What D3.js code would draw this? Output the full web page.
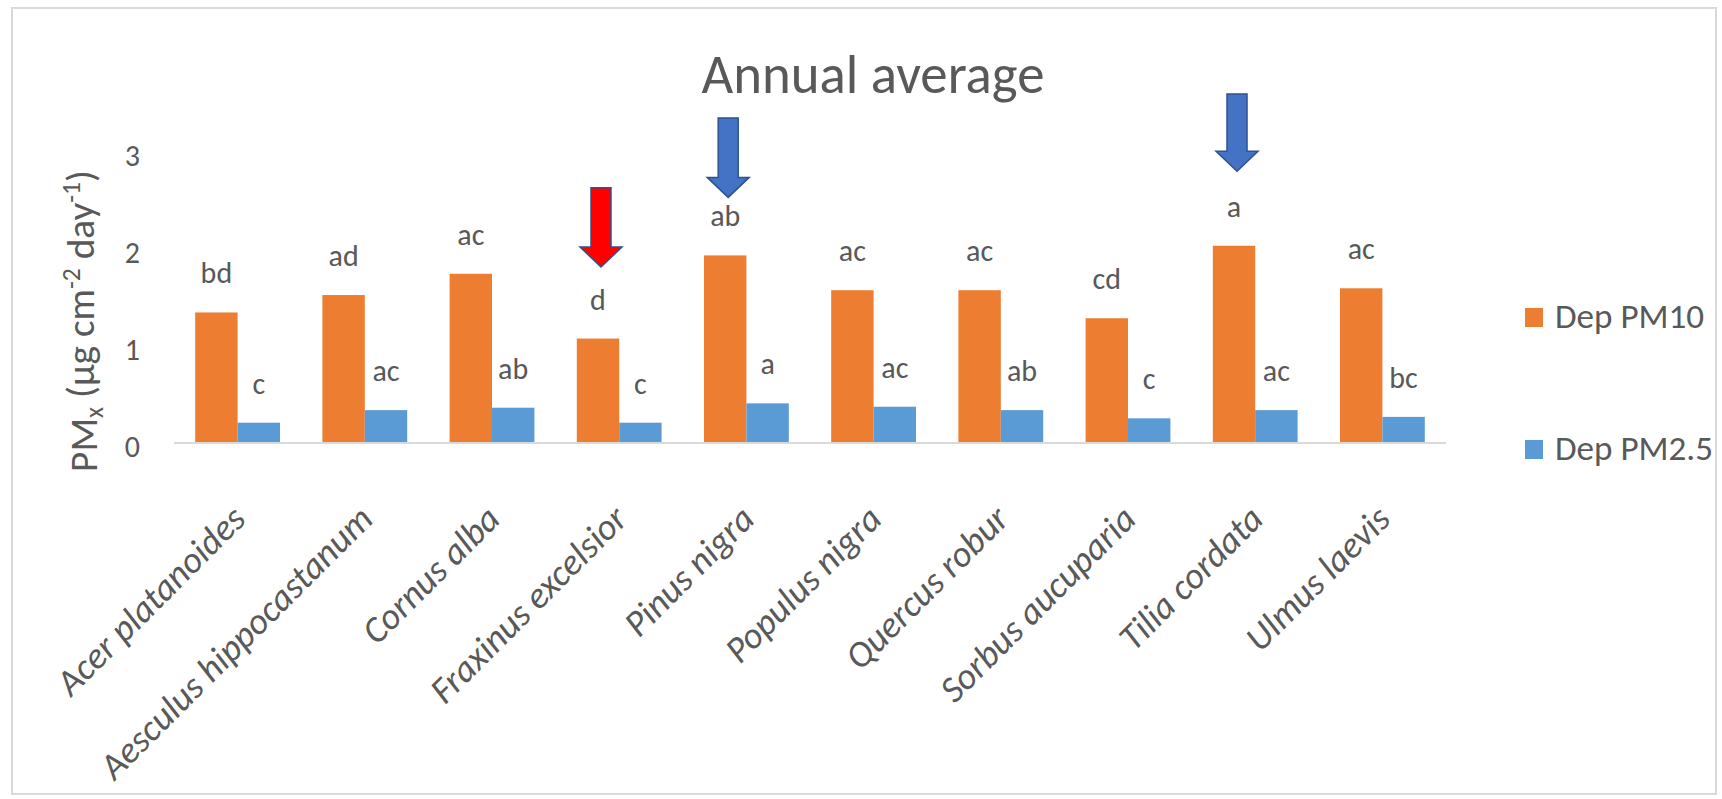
<!DOCTYPE html>
<html>
<head>
<meta charset="utf-8">
<script src="https://cdn.jsdelivr.net/npm/d3@7"></script>
<style>
  body { margin: 0; background: #fff; }
  svg text { font-family: Carlito, Calibri, Lato, sans-serif; fill: #595959; }
</style>
</head>
<body>
<div id="chart"></div>
<script>
const categories = ["Acer platanoides", "Aesculus hippocastanum", "Cornus alba", "Fraxinus excelsior",
  "Pinus nigra", "Populus nigra", "Quercus robur", "Sorbus aucuparia", "Tilia cordata", "Ulmus laevis"];
const seriesNames = ["Dep PM10", "Dep PM2.5"];
const pm10 = [1.35, 1.53, 1.75, 1.08, 1.94, 1.58, 1.58, 1.29, 2.04, 1.60];
const pm25 = [0.21, 0.34, 0.365, 0.21, 0.41, 0.375, 0.34, 0.255, 0.34, 0.27];
const pm10Letters = ["bd", "ad", "ac", "d", "ab", "ac", "ac", "cd", "a", "ac"];
const pm25Letters = ["c", "ac", "ab", "c", "a", "ac", "ab", "c", "ac", "bc"];
const yTicks = [0, 1, 2, 3];
// arrows pointing at highlighted species (values in y units)
const arrows = [
  {cat: "Fraxinus excelsior", fill: "#FF0000", top: 2.64, tip: 1.82},
  {cat: "Pinus nigra", fill: "#4472C4", top: 3.36, tip: 2.54},
  {cat: "Tilia cordata", fill: "#4472C4", top: 3.61, tip: 2.81}
];

const colors = ["#ED7D31", "#5B9BD5"];
const width = 1722, height = 799;

// scale a text's font so it spans the given width
function fitWidth(sel, target) {
  const node = sel.node();
  const fs = parseFloat(sel.attr("font-size"));
  const len = node.getComputedTextLength();
  sel.attr("font-size", fs * target / len);
}

const svg = d3.select("#chart").append("svg")
  .attr("width", width)
  .attr("height", height);

svg.append("rect")
  .attr("x", 12).attr("y", 8)
  .attr("width", 1704).attr("height", 786)
  .attr("fill", "#fff")
  .attr("stroke", "#D9D9D9")
  .attr("stroke-width", 2);

const x = d3.scaleBand()
  .domain(categories)
  .range([174, 1446])
  .paddingInner(1 / 3)
  .paddingOuter(1 / 6);

const xs = d3.scaleBand()
  .domain(seriesNames)
  .range([0, x.bandwidth()]);

const y = d3.scaleLinear()
  .domain([0, 3])
  .range([443, 443 - 3 * 96.7]);

// title
const title = svg.append("text")
  .attr("x", 873).attr("y", 93)
  .attr("text-anchor", "middle")
  .attr("font-size", 48)
  .text("Annual average");
fitWidth(title, 343);

// y tick labels
svg.append("g").selectAll("text")
  .data(yTicks)
  .join("text")
    .attr("x", 140)
    .attr("y", d => y(d))
    .attr("dy", "0.45em")
    .attr("text-anchor", "end")
    .attr("font-size", 30)
    .text(d => d);

// y axis title
const yt = svg.append("text")
  .attr("transform", "translate(97,321) rotate(-90)")
  .attr("text-anchor", "middle")
  .attr("font-size", 30);
yt.append("tspan").text("PM");
yt.append("tspan").attr("font-size", "65%").attr("dy", "0.25em").text("x");
yt.append("tspan").attr("dy", "-0.25em").text(" (µg cm");
yt.append("tspan").attr("font-size", "65%").attr("dy", "-0.55em").text("-2");
yt.append("tspan").attr("dy", "0.36em").text(" day");
yt.append("tspan").attr("font-size", "65%").attr("dy", "-0.55em").text("-1");
yt.append("tspan").attr("dy", "0.36em").text(")");
fitWidth(yt, 302);

// bars
const rows = categories.map((c, i) => ({
  cat: c,
  vals: [
    {s: seriesNames[0], v: pm10[i], lab: pm10Letters[i]},
    {s: seriesNames[1], v: pm25[i], lab: pm25Letters[i]}
  ]
}));

const groups = svg.append("g").selectAll("g")
  .data(rows)
  .join("g")
    .attr("transform", d => `translate(${x(d.cat)},0)`);

groups.selectAll("rect")
  .data(d => d.vals)
  .join("rect")
    .attr("x", d => xs(d.s))
    .attr("y", d => y(d.v))
    .attr("width", xs.bandwidth())
    .attr("height", d => y(0) - y(d.v))
    .attr("fill", (d, i) => colors[i]);

groups.selectAll("text")
  .data(d => d.vals)
  .join("text")
    .attr("x", d => xs(d.s) + xs.bandwidth() / 2)
    .attr("y", d => y(d.v) - 29)
    .attr("text-anchor", "middle")
    .attr("font-size", 30)
    .text(d => d.lab);

// x axis line
svg.append("line")
  .attr("x1", x.range()[0]).attr("x2", x.range()[1])
  .attr("y1", y(0)).attr("y2", y(0))
  .attr("stroke", "#D9D9D9")
  .attr("stroke-width", 2);

// category labels
const catLabels = svg.append("g").selectAll("text")
  .data(categories)
  .join("text")
    .attr("transform", d => `translate(${x(d) + x.bandwidth() / 2 + 10},521) rotate(-45)`)
    .attr("text-anchor", "end")
    .attr("font-size", 30)
    .attr("font-style", "italic")
    .text(d => d);
const longest = catLabels.filter(d => d === "Aesculus hippocastanum");
const catSize = 30 * 368 / longest.node().getComputedTextLength();
catLabels.attr("font-size", catSize);

// legend
const legend = svg.append("g").selectAll("g")
  .data(seriesNames)
  .join("g")
    .attr("transform", (d, i) => `translate(1525,${308 + i * 132})`);
legend.append("rect")
  .attr("width", 18).attr("height", 19)
  .attr("fill", (d, i) => colors[i]);
const legText = legend.append("text")
  .attr("x", 30).attr("y", 20)
  .attr("font-size", 29)
  .text(d => d);
const legSize = 29 * 158 / legText.filter((d, i) => i === 1).node().getComputedTextLength();
legText.attr("font-size", legSize);

// arrows
const headLen = 20, shaftW = 10, headW = 21;
svg.append("g").selectAll("path")
  .data(arrows)
  .join("path")
    .attr("d", d => {
      const cx = x(d.cat) + xs(seriesNames[0]) + xs.bandwidth() / 2 + 3;
      const t = y(d.top), p = y(d.tip), h = p - headLen;
      return `M${cx - shaftW},${t}H${cx + shaftW}V${h}H${cx + headW}L${cx},${p}L${cx - headW},${h}H${cx - shaftW}Z`;
    })
    .attr("fill", d => d.fill)
    .attr("stroke", "#2F528F")
    .attr("stroke-width", 1.5);
</script>
</body>
</html>
